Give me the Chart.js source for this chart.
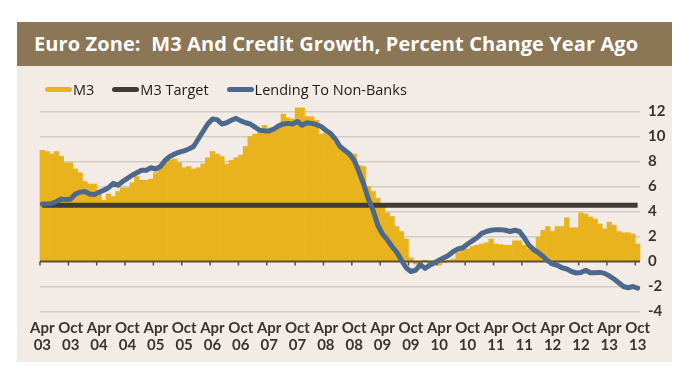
<!DOCTYPE html>
<html>
<head>
<meta charset="utf-8">
<script src="https://cdn.jsdelivr.net/npm/chart.js@4.4.0/dist/chart.umd.min.js"></script>
<style>
  body { margin: 0; background: #fff; }
  #frame { position: absolute; left: 17px; top: 22px; width: 655px; height: 340px; background: #f3ece6; }
  #title { height: 44px; background: #8b7656; color: #fff; font: bold 20px "Open Sans", "Liberation Sans", sans-serif; letter-spacing: 0.1px; line-height: 44px; padding-left: 17px; white-space: pre; }
  #wrap { position: relative; width: 655px; height: 302px; }
  #legend { position: absolute; left: 28px; top: 14px; display: flex; align-items: center; font: 14.5px "Open Sans", "Liberation Sans", sans-serif; color: #1c1916; z-index: 2; }
  #legend .item { display: flex; align-items: center; margin-right: 18px; }
  #legend .box { width: 27px; height: 5px; border-radius: 3px; margin-right: 1px; }
</style>
</head>
<body>
<div id="frame">
  <div id="title">Euro Zone:  M3 And Credit Growth, Percent Change Year Ago</div>
  <div id="wrap"><div id="legend"></div><canvas id="chart"></canvas></div>
</div>
<script>
// monthly, Apr 2003 .. Oct 2013
const monthNames = ["Jan", "Feb", "Mar", "Apr", "May", "Jun", "Jul", "Aug", "Sep", "Oct", "Nov", "Dec"];
const labels = [];
for (let i = 0; i < 127; i++) {
  const m = (3 + i) % 12;
  const y = 2003 + Math.floor((3 + i) / 12);
  labels.push(monthNames[m] + " " + String(y).slice(2));
}

const m3 = [
  8.9, 8.8, 8.6, 8.8, 8.4, 7.9, 7.9, 7.4, 7.1, 6.4, 6.2, 6.2,
  5.5, 4.9, 5.4, 5.2, 5.6, 5.9, 5.9, 6.3, 6.8, 6.5, 6.5, 6.6,
  7.1, 7.6, 7.9, 8.1, 8.2, 7.9, 7.5, 7.6, 7.4, 7.5, 7.8, 8.3,
  8.8, 8.6, 8.4, 7.8, 8.1, 8.3, 8.5, 9.2, 10.0, 10.2, 10.3, 10.9,
  10.3, 10.5, 10.9, 11.8, 11.5, 11.4, 12.3, 12.3, 11.6, 11.6, 11.3, 10.2,
  10.3, 10.1, 9.5, 9.1, 8.8, 8.6, 8.6, 7.7, 7.6, 6.0, 5.6, 5.05,
  4.5, 3.9, 3.6, 2.8, 2.4, 1.8, 0.3, -0.2, -0.2, 0.1, -0.4, -0.1,
  -0.3, -0.1, 0.1, 0.2, 0.7, 0.9, 1.0, 1.2, 1.3, 1.4, 1.5, 1.8,
  1.4, 1.35, 1.3, 1.3, 1.65, 1.65, 1.3, 1.0, 1.0, 1.95, 2.5, 2.8,
  2.4, 2.8, 2.8, 3.5, 2.7, 2.7, 3.9, 3.8, 3.55, 3.4, 3.0, 2.6,
  3.15, 2.9, 2.4, 2.3, 2.3, 2.2, 1.4
];

const lending = [
  4.6, 4.6, 4.65, 4.8, 5.0, 4.95, 5.0, 5.4, 5.55, 5.6, 5.4, 5.35,
  5.55, 5.7, 5.9, 6.25, 6.1, 6.4, 6.65, 6.9, 7.1, 7.3, 7.3, 7.5,
  7.4, 7.6, 8.1, 8.4, 8.6, 8.75, 8.85, 9.0, 9.2, 9.8, 10.4, 11.0,
  11.4, 11.35, 11.0, 11.1, 11.3, 11.45, 11.25, 11.1, 11.0, 10.75, 10.5, 10.45,
  10.45, 10.6, 10.85, 11.0, 11.05, 11.0, 11.2, 10.9, 11.1, 11.05, 10.95, 10.8,
  10.5, 10.25, 9.8, 9.2, 8.9, 8.6, 8.1, 7.2, 6.2, 5.0, 4.1, 2.9,
  2.2, 1.75, 1.2, 0.75, 0.1, -0.5, -0.8, -0.7, -0.25, -0.55, -0.3, -0.1,
  0.1, 0.3, 0.5, 0.8, 1.0, 1.1, 1.4, 1.65, 1.9, 2.25, 2.4, 2.5,
  2.55, 2.55, 2.5, 2.4, 2.5, 2.4, 1.9, 1.3, 0.95, 0.7, 0.4, 0.05,
  -0.2, -0.3, -0.5, -0.6, -0.8, -0.92, -0.88, -0.7, -0.9, -0.9, -0.87, -0.95,
  -1.15, -1.4, -1.7, -2.0, -2.1, -2.0, -2.13
];

const m3Target = 4.5;
const yTicks = [-4, -2, 0, 2, 4, 6, 8, 10, 12];

const gold = "#e9b31e";
const slate = "#4c698c";
const charcoal = "#3f3b37";

// dark zero axis with half-year tick marks
const zeroAxis = {
  id: "zeroAxis",
  afterDatasetDraw(chart, args) {
    if (args.meta.type !== "bar") return;
    const { ctx, chartArea, scales } = chart;
    const y0 = scales.y.getPixelForValue(0);
    const half = (scales.x.getPixelForValue(1) - scales.x.getPixelForValue(0)) / 2;
    ctx.save();
    ctx.strokeStyle = "#5e4d3a";
    ctx.lineWidth = 2;
    ctx.beginPath();
    ctx.moveTo(chartArea.left, y0);
    ctx.lineTo(chartArea.right, y0);
    ctx.stroke();
    ctx.lineWidth = 1.5;
    ctx.beginPath();
    labels.forEach((l, i) => {
      if (l.startsWith("Apr") || l.startsWith("Oct")) {
        const px = scales.x.getPixelForValue(i) - half;
        ctx.moveTo(px, y0);
        ctx.lineTo(px, y0 + 4);
      }
    });
    ctx.stroke();
    ctx.restore();
  }
};

const ctx = document.getElementById("chart").getContext("2d");

const chart = new Chart(ctx, {
  data: {
    labels: labels,
    datasets: [
      {
        type: "bar",
        label: "M3",
        data: m3,
        backgroundColor: gold,
        borderWidth: 0,
        barPercentage: 1,
        categoryPercentage: 1,
        order: 3,
        clip: false
      },
      {
        type: "line",
        label: "M3 Target",
        data: labels.map(() => m3Target),
        borderColor: charcoal,
        borderWidth: 5,
        pointRadius: 0,
        order: 2
      },
      {
        type: "line",
        label: "Lending To Non-Banks",
        data: lending,
        borderColor: slate,
        borderWidth: 5,
        pointRadius: 0,
        borderJoinStyle: "round",
        borderCapStyle: "round",
        order: 1
      }
    ]
  },
  options: {
    responsive: true,
    maintainAspectRatio: false,
    animation: false,
    layout: { padding: { left: 23, right: 0, top: 45.5, bottom: 6 } },
    plugins: {
      tooltip: { enabled: false },
      legend: { display: false }
    },
    scales: {
      x: {
        offset: true,
        grid: { display: false, drawTicks: false },
        border: { display: false },
        ticks: {
          autoSkip: false,
          maxRotation: 0,
          minRotation: 0,
          padding: 8,
          color: "#3a3330",
          font: { family: "Lato, sans-serif", size: 15, weight: "bold", lineHeight: 1.15 },
          callback: function (value, index) {
            const l = labels[index];
            if (l.startsWith("Apr") || l.startsWith("Oct")) return l.split(" ");
            return "";
          }
        }
      },
      y: {
        position: "right",
        min: -4,
        max: 12,
        afterBuildTicks: axis => { axis.ticks = yTicks.map(v => ({ value: v })); },
        afterFit: axis => { axis.width = 32; },
        grid: {
          color: c => (c.tick && c.tick.value === 0 ? "rgba(0,0,0,0)" : "#d2ccc6"),
          lineWidth: 1.5,
          drawTicks: false
        },
        border: { display: false },
        ticks: {
          padding: 8,
          color: "#3a3330",
          font: { family: "Lato, sans-serif", size: 15, weight: "bold" }
        }
      }
    }
  },
  plugins: [zeroAxis]
});

// legend as html, built from the datasets
const legendEl = document.getElementById("legend");
chart.data.datasets.forEach(ds => {
  const item = document.createElement("span");
  item.className = "item";
  const box = document.createElement("span");
  box.className = "box";
  box.style.background = ds.type === "bar" ? ds.backgroundColor : ds.borderColor;
  const txt = document.createElement("span");
  txt.textContent = ds.label;
  item.appendChild(box);
  item.appendChild(txt);
  legendEl.appendChild(item);
});
</script>
</body>
</html>
